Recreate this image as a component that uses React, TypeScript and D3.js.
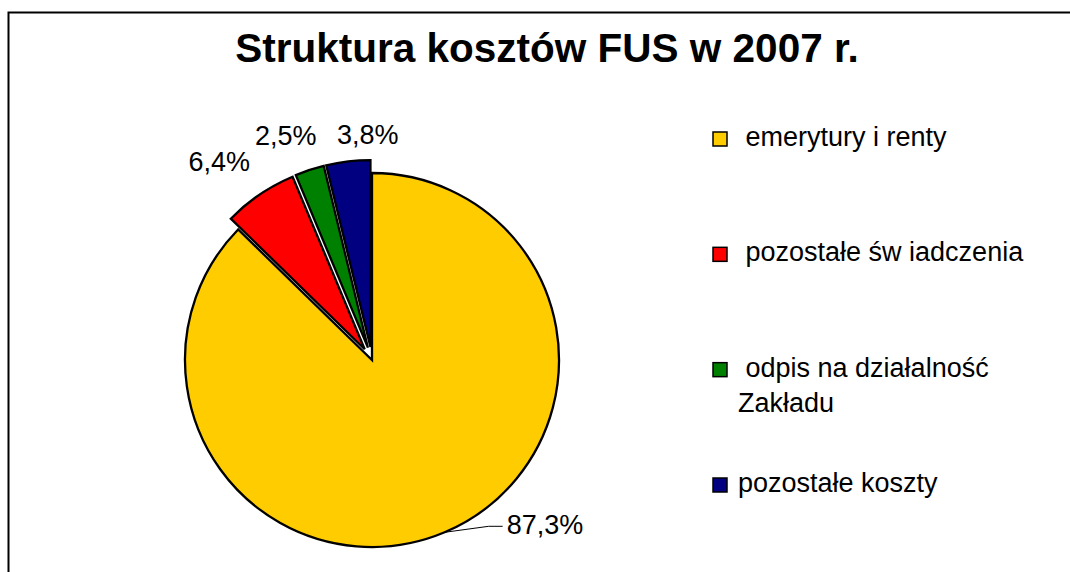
import React, { useEffect, useRef } from "react";
import * as d3 from "d3";

const categories = [
  "emerytury i renty",
  "pozostałe św iadczenia",
  "odpis na działalność Zakładu",
  "pozostałe koszty",
];
const values = [87.3, 6.4, 2.5, 3.8];
const labels = ["87,3%", "6,4%", "2,5%", "3,8%"];
const legendLines = [
  [" emerytury i renty"],
  [" pozostałe św iadczenia"],
  [" odpis na działalność", "Zakładu"],
  ["pozostałe koszty"],
];
const colors = ["#FFCC00", "#FF0000", "#008000", "#000080"];
const exploded = [false, true, true, true];

const W = 1070;
const H = 572;
const FONT = "'Liberation Sans', Arial, sans-serif";

export default function App() {
  const ref = useRef<SVGSVGElement>(null);

  useEffect(() => {
    const svg = d3.select(ref.current);
    svg.selectAll("*").remove();

    // chart frame (runs off the right and bottom edge)
    svg.append("rect")
      .attr("x", 8.5).attr("y", 12.5)
      .attr("width", 1200).attr("height", 700)
      .attr("fill", "#fff")
      .attr("stroke", "#000")
      .attr("stroke-width", 2);

    svg.append("text")
      .attr("x", 547).attr("y", 62)
      .attr("text-anchor", "middle")
      .style("font-family", FONT)
      .style("font-size", "40.5px")
      .style("font-weight", "bold")
      .text("Struktura kosztów FUS w 2007 r.");

    const cx = 372, cy = 360, r = 187, explode = 13;

    const pie = d3.pie<number>().sort(null).startAngle(0).endAngle(2 * Math.PI);
    const arcs = pie(values);
    const arc = d3.arc<d3.PieArcDatum<number>>().innerRadius(0).outerRadius(r);

    const g = svg.append("g").attr("transform", `translate(${cx},${cy})`);

    const mid = (d: d3.PieArcDatum<number>) => (d.startAngle + d.endAngle) / 2;

    g.selectAll("path.slice")
      .data(arcs)
      .join("path")
      .attr("class", "slice")
      .attr("d", arc)
      .attr("transform", (d, i) => {
        if (!exploded[i]) return null;
        const a = mid(d);
        return `translate(${explode * Math.sin(a)},${-explode * Math.cos(a)})`;
      })
      .attr("fill", (d, i) => colors[i])
      .attr("stroke", "#000")
      .attr("stroke-width", 2.3)
      .attr("stroke-linejoin", "miter");

    // label layout: angle nudge (rad) and distance from centre
    const labelLayout = [
      { da: 0, dist: r, anchor: "start" },
      { da: -0.06, dist: 250, anchor: "middle" },
      { da: -0.05, dist: 240, anchor: "middle" },
      { da: 0.1, dist: 225, anchor: "middle" },
    ];

    arcs.forEach((d, i) => {
      const L = labelLayout[i];
      const a = mid(d) + L.da;
      const px = L.dist * Math.sin(a);
      const py = -L.dist * Math.cos(a);
      if (i === 0) {
        // label moved away from the slice, with leader line
        const tx = px + 58, ty = py - 6;
        g.append("polyline")
          .attr("points", `${px},${py} ${tx - 14},${ty} ${tx},${ty}`)
          .attr("fill", "none")
          .attr("stroke", "#000")
          .attr("stroke-width", 1);
        g.append("text")
          .attr("x", tx + 4).attr("y", ty + 8)
          .attr("text-anchor", "start")
          .style("font-family", FONT)
          .style("font-size", "27px")
          .text(labels[i]);
      } else {
        g.append("text")
          .attr("x", px).attr("y", py + 9)
          .attr("text-anchor", L.anchor)
          .style("font-family", FONT)
          .style("font-size", "27px")
          .text(labels[i]);
      }
    });

    // legend
    const legendY = d3.scalePoint<string>()
      .domain(categories)
      .range([139, 485]);

    const leg = svg.append("g");
    categories.forEach((c, i) => {
      const y = legendY(c)!;
      leg.append("rect")
        .attr("x", 713).attr("y", y - 7)
        .attr("width", 14).attr("height", 14)
        .attr("fill", colors[i])
        .attr("stroke", "#000")
        .attr("stroke-width", 1.5);
      legendLines[i].forEach((line, j) => {
        leg.append("text")
          .attr("x", 738).attr("y", y + 7 + j * 35)
          .attr("xml:space", "preserve")
          .style("white-space", "pre")
          .style("font-family", FONT)
          .style("font-size", "27px")
          .text(line);
      });
    });
  }, []);

  return (
    <svg
      ref={ref}
      width={W}
      height={H}
      style={{ position: "absolute", left: 0, top: 0, background: "#fff" }}
    />
  );
}
